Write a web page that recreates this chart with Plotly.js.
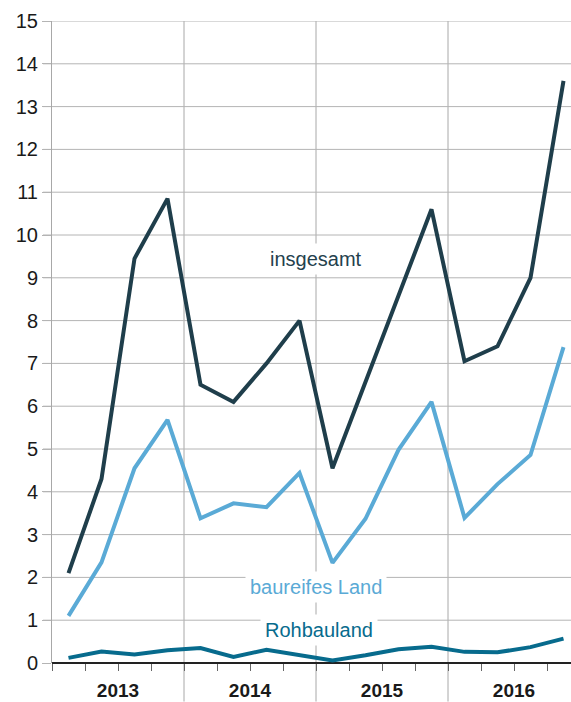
<!DOCTYPE html>
<html>
<head>
<meta charset="utf-8">
<script src="https://cdn.plot.ly/plotly-3.0.1.min.js"></script>
<style>
  html, body { margin: 0; padding: 0; background: #fff; }
  #chart { width: 571px; height: 702px; }
</style>
</head>
<body>
<div id="chart"></div>
<script>
// quarterly values, 2013 Q1 .. 2016 Q4
const quarters = ['2013 Q1','2013 Q2','2013 Q3','2013 Q4','2014 Q1','2014 Q2','2014 Q3','2014 Q4',
                  '2015 Q1','2015 Q2','2015 Q3','2015 Q4','2016 Q1','2016 Q2','2016 Q3','2016 Q4'];
const years = ['2013', '2014', '2015', '2016'];
const yTicks = [0, 1, 2, 3, 4, 5, 6, 7, 8, 9, 10, 11, 12, 13, 14, 15];

const insgesamt = [2.1, 4.3, 9.45, 10.85, 6.5, 6.1, 7.0, 8.0, 4.55, 6.55, 8.55, 10.6, 7.05, 7.4, 9.0, 13.6];
const baureifes = [1.1, 2.35, 4.55, 5.68, 3.38, 3.73, 3.64, 4.44, 2.34, 3.37, 4.98, 6.1, 3.39, 4.18, 4.86, 7.38];
const rohbauland = [0.12, 0.27, 0.2, 0.3, 0.35, 0.14, 0.31, 0.19, 0.06, 0.18, 0.32, 0.38, 0.26, 0.25, 0.37, 0.57];

const cDark = '#1f3e4b';
const cLight = '#5aaad6';
const cMid = '#076b8d';
const fontFam = 'Liberation Sans, Arial, sans-serif';

// x position of each quarter = centre of its slot
const xs = quarters.map((q, i) => i + 0.5);
const xMax = 519 / 33;

// year labels sit at the middle of each year block
const tickVals = [];
const tickText = [];
for (let i = 0; i < 16; i++) {
    tickVals.push(i);
    tickText.push(i % 4 === 2 ? years[(i - 2) / 4] : '');
}

const line = (y, color, name) => ({
    x: xs, y: y, name: name,
    type: 'scatter', mode: 'lines',
    line: { color: color, width: 4 },
    hoverinfo: 'skip'
});

const traces = [
    line(rohbauland, cMid, 'Rohbauland'),
    line(baureifes, cLight, 'baureifes Land'),
    line(insgesamt, cDark, 'insgesamt')
];

const label = (text, x, y, color) => ({
    text: text, x: x, y: y, xref: 'x', yref: 'y',
    showarrow: false, bgcolor: '#fff', borderpad: 4,
    font: { family: fontFam, size: 20, color: color }
});

// year separators run from the top down past the axis labels
const yearLines = [4, 8, 12].map(v => ({
    type: 'line', xref: 'x', yref: 'paper', x0: v, x1: v, y0: -0.06, y1: 1,
    layer: 'below', line: { color: '#a8a8a8', width: 1 }
}));
// horizontal grid, starting a little left of the axis like a tick
const hLines = yTicks.filter(v => v > 0).map(v => ({
    type: 'line', xref: 'paper', yref: 'y', x0: -9 / 519, x1: 1, y0: v, y1: v,
    layer: 'below', line: { color: '#b4b4b4', width: 1 }
}));

const layout = {
    width: 571, height: 702,
    margin: { l: 52, r: 0, t: 21, b: 39 },
    paper_bgcolor: '#fff', plot_bgcolor: '#fff',
    showlegend: false,
    font: { family: fontFam, color: '#222' },
    xaxis: {
        range: [0, xMax],
        tickmode: 'array', tickvals: tickVals, ticktext: tickText,
        ticks: 'outside', ticklen: 7, tickcolor: '#666', tickwidth: 1,
        ticklabelstandoff: 3,
        showgrid: false, zeroline: false, showline: false,
        tickfont: { size: 19, color: '#1a1a1a', weight: 'bold' }
    },
    yaxis: {
        range: [0, 15],
        tickmode: 'array', tickvals: yTicks,
        ticks: 'outside', ticklen: 9, tickcolor: '#b4b4b4', tickwidth: 1,
        showgrid: false,
        showline: true, linecolor: '#a8a8a8', linewidth: 1,
        zeroline: true, zerolinecolor: '#222', zerolinewidth: 1.5,
        tickfont: { size: 20, color: '#1a1a1a' }
    },
    shapes: yearLines.concat(hLines),
    annotations: [
        label('insgesamt', 8.0, 9.45, '#24414d'),
        label('baureifes Land', 8.0, 1.78, cLight),
        label('Rohbauland', 8.1, 0.77, cMid)
    ]
};

Plotly.newPlot('chart', traces, layout, { displayModeBar: false });
</script>
</body>
</html>
